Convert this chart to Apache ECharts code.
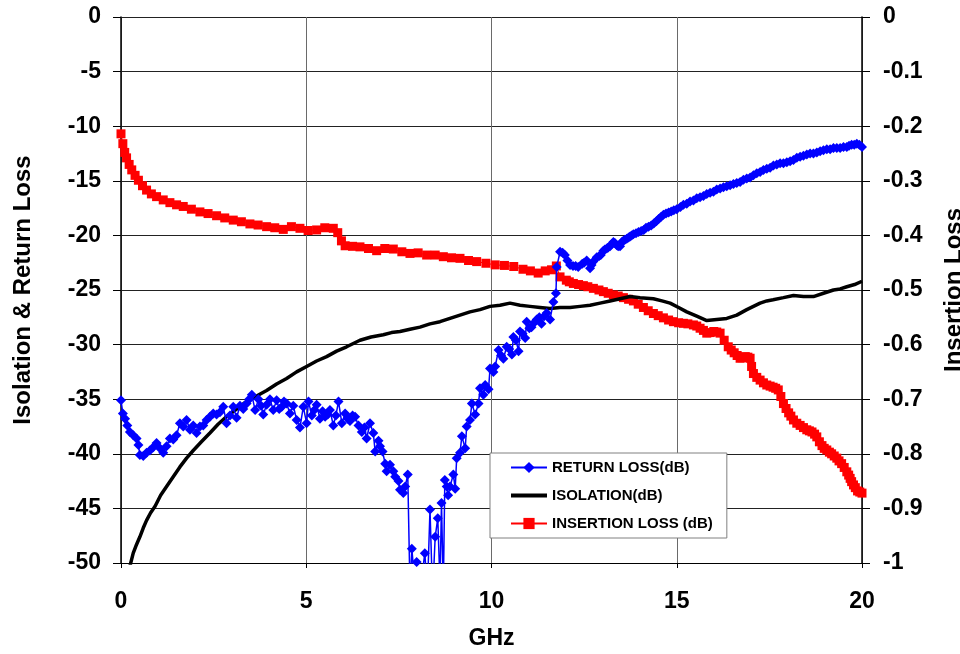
<!DOCTYPE html>
<html>
<head>
<meta charset="utf-8">
<script src="https://cdn.jsdelivr.net/npm/echarts@6/dist/echarts.min.js"></script>
<style>
html,body{margin:0;padding:0;background:#fff;}
#c{width:960px;height:654px;}
</style>
</head>
<body>
<div id="c"></div>
<script>
// X ticks (GHz)
var xTicks = [0, 5, 10, 15, 20];
var leftTicks = [0, -5, -10, -15, -20, -25, -30, -35, -40, -45, -50];
var rightTicks = [0, -0.1, -0.2, -0.3, -0.4, -0.5, -0.6, -0.7, -0.8, -0.9, -1];

// RETURN LOSS (dB), left axis
var rlFreq = [0.00,0.05,0.11,0.17,0.24,0.33,0.42,0.47,0.51,0.60,0.69,0.78,0.87,0.96,1.05,1.14,1.23,1.32,1.41,1.50,1.59,1.68,1.77,1.86,1.95,2.04,2.13,2.22,2.31,2.40,2.49,2.58,2.67,2.76,2.85,2.94,3.03,3.12,3.21,3.30,3.39,3.46,3.53,3.62,3.71,3.78,3.84,3.93,4.02,4.11,4.20,4.27,4.34,4.40,4.47,4.56,4.65,4.74,4.83,4.92,5.01,5.06,5.15,5.22,5.28,5.37,5.44,5.51,5.58,5.64,5.73,5.80,5.87,5.96,6.05,6.12,6.18,6.25,6.32,6.41,6.50,6.57,6.63,6.72,6.81,6.86,6.95,6.99,7.06,7.13,7.17,7.26,7.35,7.40,7.49,7.53,7.62,7.67,7.74,7.80,7.85,7.92,7.98,8.06,8.13,8.20,8.27,8.34,8.41,8.48,8.55,8.61,8.65,8.70,8.74,8.79,8.83,8.88,8.97,9.02,9.06,9.15,9.20,9.29,9.33,9.42,9.47,9.56,9.65,9.69,9.78,9.83,9.92,9.96,10.05,10.10,10.19,10.26,10.32,10.41,10.48,10.55,10.59,10.66,10.73,10.77,10.84,10.91,10.95,11.02,11.08,11.15,11.22,11.29,11.35,11.42,11.49,11.58,11.67,11.74,11.76,11.85,11.92,11.98,12.05,12.12,12.20,12.34,12.45,12.57,12.66,12.75,12.84,12.95,13.02,13.11,13.20,13.29,13.38,13.47,13.56,13.65,13.74,13.83,13.97,14.11,14.24,14.38,14.51,14.64,14.78,14.92,15.10,15.27,15.45,15.63,15.81,15.99,16.17,16.35,16.53,16.71,16.89,17.07,17.25,17.43,17.61,17.79,17.97,18.15,18.33,18.51,18.69,18.87,19.05,19.23,19.41,19.59,19.72,19.86,20.00];
var rlValues = [-35.1,-36.3,-36.8,-37.4,-38.0,-38.3,-38.6,-39.2,-40.1,-40.2,-39.9,-39.7,-39.4,-39.0,-39.5,-39.9,-39.3,-38.6,-38.7,-38.3,-37.2,-37.5,-36.9,-37.8,-37.4,-38.1,-37.5,-37.4,-36.9,-36.6,-36.3,-36.4,-36.2,-35.7,-37.2,-36.5,-35.7,-36.7,-35.6,-35.9,-35.4,-35.0,-34.6,-36.0,-35.0,-35.6,-36.4,-35.5,-35.0,-36.0,-35.1,-35.9,-35.7,-35.2,-35.4,-36.3,-35.6,-36.9,-37.6,-35.7,-37.2,-35.2,-36.5,-36.0,-35.5,-36.8,-36.1,-36.6,-36.4,-36.0,-37.4,-36.5,-35.2,-37.2,-36.3,-36.8,-37.0,-36.5,-36.6,-37.4,-38.0,-37.6,-38.6,-37.2,-38.1,-39.8,-38.8,-39.3,-39.8,-40.9,-41.6,-41.0,-41.6,-42.1,-42.5,-43.3,-43.6,-43.0,-41.9,-52.5,-48.7,-51.5,-49.9,-52.0,-51.0,-49.1,-52.5,-45.1,-53.0,-47.6,-45.9,-52.0,-44.5,-52.5,-42.4,-43.0,-43.8,-43.0,-41.9,-43.2,-40.4,-39.9,-38.4,-39.5,-37.5,-36.9,-35.4,-36.4,-35.4,-34.0,-34.6,-33.7,-34.1,-32.2,-32.5,-32.0,-30.5,-31.0,-31.3,-30.2,-30.4,-30.9,-29.3,-29.6,-30.6,-28.8,-29.0,-29.4,-27.9,-28.5,-28.4,-28.0,-27.7,-27.5,-28.1,-27.4,-27.1,-27.7,-26.1,-25.3,-22.9,-21.5,-21.6,-21.8,-22.3,-22.7,-22.8,-22.9,-22.6,-22.3,-23.0,-22.4,-22.0,-21.8,-21.4,-21.2,-21.0,-20.6,-20.9,-21.0,-20.5,-20.3,-20.1,-19.9,-19.7,-19.5,-19.2,-18.9,-18.5,-18.1,-17.9,-17.7,-17.4,-17.1,-16.8,-16.5,-16.2,-16.0,-15.7,-15.5,-15.3,-15.1,-14.8,-14.5,-14.2,-13.9,-13.6,-13.4,-13.3,-13.1,-12.8,-12.6,-12.5,-12.3,-12.1,-12.0,-12.0,-11.9,-11.7,-11.6,-11.9];
// further RETURN LOSS readings, 12-20 GHz band
var rlFreqMore = [12.27,12.50,12.70,12.90,13.06,13.15,13.24,13.33,13.42,13.52,13.60,13.70,13.78,13.90,14.04,14.17,14.31,14.45,14.58,14.71,14.85,15.00,15.18,15.36,15.54,15.72,15.90,16.08,16.26,16.44,16.62,16.80,16.98,17.16,17.34,17.52,17.70,17.88,18.06,18.24,18.42,18.60,18.78,18.96,19.14,19.32,19.50,19.65,19.79,19.93];
var rlValuesMore = [-22.8,-22.5,-22.7,-21.9,-21.3,-21.1,-20.8,-20.7,-21.0,-20.6,-20.4,-20.2,-20.0,-19.8,-19.6,-19.3,-19.1,-18.7,-18.3,-18.0,-17.8,-17.6,-17.2,-16.9,-16.6,-16.4,-16.1,-15.8,-15.6,-15.4,-15.2,-14.9,-14.7,-14.3,-14.0,-13.8,-13.5,-13.4,-13.2,-12.9,-12.7,-12.5,-12.4,-12.2,-12.1,-12.0,-11.9,-11.8,-11.7,-11.7];

// ISOLATION (dB), left axis
var isoFreq = [0.15,0.24,0.33,0.42,0.51,0.60,0.69,0.80,0.92,1.07,1.23,1.41,1.59,1.77,1.95,2.17,2.40,2.62,2.85,3.12,3.39,3.66,3.93,4.20,4.47,4.74,5.01,5.28,5.55,5.82,6.09,6.27,6.45,6.75,7.08,7.30,7.53,7.80,8.07,8.34,8.61,8.88,9.15,9.42,9.69,9.96,10.23,10.50,10.77,11.04,11.31,11.58,11.85,12.12,12.39,12.66,12.93,13.20,13.47,13.74,14.01,14.37,14.60,14.82,15.05,15.27,15.54,15.81,16.08,16.35,16.62,16.89,17.07,17.25,17.43,17.60,17.88,18.15,18.42,18.69,18.96,19.23,19.41,19.59,19.80,20.00];
var isoValues = [-51.5,-50.3,-49.1,-48.3,-47.6,-46.8,-46.1,-45.4,-44.8,-43.8,-43.0,-42.1,-41.2,-40.4,-39.7,-38.9,-38.1,-37.3,-36.6,-35.9,-35.2,-34.7,-34.2,-33.6,-33.1,-32.5,-32.0,-31.5,-31.1,-30.6,-30.2,-29.9,-29.6,-29.3,-29.1,-28.9,-28.8,-28.6,-28.4,-28.1,-27.9,-27.6,-27.3,-27.0,-26.8,-26.5,-26.4,-26.2,-26.4,-26.5,-26.6,-26.7,-26.6,-26.6,-26.5,-26.4,-26.2,-26.0,-25.8,-25.6,-25.7,-25.8,-26.0,-26.2,-26.6,-27.0,-27.4,-27.8,-27.7,-27.6,-27.3,-26.8,-26.5,-26.2,-26.0,-25.9,-25.7,-25.5,-25.6,-25.6,-25.3,-25.0,-24.9,-24.7,-24.5,-24.2];

// INSERTION LOSS (dB), right axis
var ilFreq = [0.00,0.05,0.10,0.15,0.22,0.29,0.38,0.47,0.58,0.69,0.82,0.96,1.14,1.32,1.50,1.68,1.90,2.13,2.35,2.58,2.80,3.03,3.25,3.48,3.70,3.93,4.15,4.38,4.60,4.83,5.05,5.28,5.50,5.73,5.85,5.95,6.05,6.25,6.45,6.68,6.90,7.12,7.35,7.58,7.80,8.02,8.25,8.48,8.70,8.92,9.15,9.38,9.60,9.85,10.10,10.35,10.60,10.85,11.05,11.26,11.45,11.62,11.75,11.85,12.02,12.21,12.48,12.75,13.02,13.29,13.56,13.83,14.10,14.37,14.64,14.91,15.18,15.45,15.63,15.81,16.00,16.17,16.39,16.55,16.71,16.85,16.98,17.07,17.25,17.43,17.60,17.74,17.88,18.02,18.15,18.33,18.51,18.65,18.78,18.92,19.05,19.18,19.32,19.45,19.59,19.68,19.77,19.88,20.00];
var ilValues = [-0.214,-0.232,-0.248,-0.258,-0.270,-0.280,-0.290,-0.299,-0.309,-0.317,-0.324,-0.329,-0.335,-0.340,-0.344,-0.347,-0.352,-0.357,-0.360,-0.364,-0.368,-0.372,-0.375,-0.379,-0.381,-0.384,-0.386,-0.389,-0.384,-0.387,-0.391,-0.390,-0.386,-0.387,-0.395,-0.410,-0.419,-0.420,-0.421,-0.424,-0.428,-0.424,-0.425,-0.430,-0.433,-0.432,-0.436,-0.436,-0.439,-0.441,-0.442,-0.446,-0.448,-0.451,-0.454,-0.455,-0.457,-0.462,-0.465,-0.469,-0.465,-0.463,-0.456,-0.476,-0.482,-0.488,-0.492,-0.497,-0.503,-0.509,-0.514,-0.520,-0.532,-0.543,-0.551,-0.558,-0.561,-0.564,-0.570,-0.579,-0.576,-0.579,-0.604,-0.615,-0.625,-0.622,-0.625,-0.653,-0.665,-0.674,-0.678,-0.683,-0.708,-0.725,-0.738,-0.748,-0.756,-0.760,-0.769,-0.785,-0.793,-0.800,-0.808,-0.818,-0.833,-0.845,-0.857,-0.868,-0.872];
// further INSERTION LOSS readings, 12-20 GHz band
var ilFreqMore = [12.10,12.35,12.60,12.90,13.15,13.42,13.70,13.96,14.23,14.50,14.78,15.05,15.30,15.54,15.72,15.90,16.08,16.28,16.47,16.63,16.78,16.92,17.02,17.16,17.34,17.52,17.67,17.81,17.95,18.08,18.24,18.42,18.58,18.72,18.85,18.98,19.12,19.25,19.38,19.52,19.64,19.72,19.82,19.94];
var ilValuesMore = [-0.485,-0.490,-0.494,-0.500,-0.506,-0.511,-0.517,-0.526,-0.538,-0.547,-0.555,-0.560,-0.562,-0.566,-0.574,-0.578,-0.577,-0.592,-0.610,-0.620,-0.624,-0.623,-0.640,-0.660,-0.670,-0.676,-0.680,-0.695,-0.717,-0.731,-0.744,-0.752,-0.758,-0.764,-0.778,-0.790,-0.797,-0.804,-0.813,-0.825,-0.839,-0.851,-0.862,-0.870];

function pairs(xs, ys){ return xs.map(function(x,i){ return [x, ys[i]]; }); }
function byFreq(a, b){ return a[0] - b[0]; }

var FONT = 'Liberation Sans, Arial, sans-serif';
var chart = echarts.init(document.getElementById('c'), null, {renderer:'canvas'});
chart.setOption({
  animation: false,
  backgroundColor: '#fff',
  grid: {left:121, right:98, top:17, bottom:91, containLabel:false, outerBoundsMode:'none', show:false},
  legend: {
    data: [
      {name: 'RETURN LOSS(dB)'},
      {name: 'ISOLATION(dB)', itemStyle: {opacity: 0}, lineStyle: {width: 4, color: '#000'}},
      {name: 'INSERTION LOSS (dB)'}
    ],
    orient: 'vertical', left: 490, top: 453,
    itemWidth: 36, itemHeight: 14, itemGap: 13,
    padding: [7, 14, 7, 19],
    backgroundColor: '#fff', borderColor: '#808080', borderWidth: 1,
    textStyle: {fontFamily: FONT, fontWeight: 'bold', fontSize: 15, color: '#000'}
  },
  xAxis: {
    type: 'value', min: xTicks[0], max: xTicks[xTicks.length-1], interval: 5,
    name: 'GHz', nameLocation: 'middle', nameGap: 64,
    nameTextStyle: {fontFamily: FONT, fontWeight: 'bold', fontSize: 23, color: '#000'},
    axisLine: {show: true, onZero: false, lineStyle: {color: '#000', width: 1}},
    axisTick: {show: true, length: 5, lineStyle: {color: '#000'}},
    axisLabel: {fontFamily: FONT, fontWeight: 'bold', fontSize: 23, color: '#000', margin: 27},
    splitLine: {show: true, lineStyle: {color: '#6a6a6a', width: 1}}
  },
  yAxis: [{
    type: 'value', min: leftTicks[leftTicks.length-1], max: leftTicks[0], interval: 5,
    position: 'left',
    name: 'Isolation & Return Loss', nameLocation: 'middle', nameGap: 86, nameRotate: 90,
    nameTextStyle: {fontFamily: FONT, fontWeight: 'bold', fontSize: 24, color: '#000'},
    axisLine: {show: true, onZero: false, lineStyle: {color: '#000', width: 1.5}},
    axisTick: {show: true, length: 8, lineStyle: {color: '#000'}},
    axisLabel: {fontFamily: FONT, fontWeight: 'bold', fontSize: 23, color: '#000', margin: 20},
    splitLine: {show: true, lineStyle: {color: '#222', width: 1}}
  }, {
    type: 'value', min: rightTicks[rightTicks.length-1], max: rightTicks[0], interval: 0.1,
    position: 'right',
    name: 'Insertion Loss', nameLocation: 'middle', nameGap: 80, nameRotate: 90,
    nameTextStyle: {fontFamily: FONT, fontWeight: 'bold', fontSize: 24, color: '#000'},
    axisLine: {show: true, onZero: false, lineStyle: {color: '#000', width: 1.5}},
    axisTick: {show: true, length: 8, lineStyle: {color: '#000'}},
    axisLabel: {fontFamily: FONT, fontWeight: 'bold', fontSize: 23, color: '#000', margin: 21,
      formatter: function(v){ return String(Math.round(v*10)/10); }},
    splitLine: {show: false}
  }],
  series: [{
    name: 'INSERTION LOSS (dB)', type: 'line', yAxisIndex: 1,
    data: pairs(ilFreq, ilValues).concat(pairs(ilFreqMore, ilValuesMore)).sort(byFreq),
    symbol: 'rect', symbolSize: 9, showAllSymbol: true,
    lineStyle: {color: '#ff0000', width: 1},
    itemStyle: {color: '#ff0000'},
    z: 2
  }, {
    name: 'ISOLATION(dB)', type: 'line', yAxisIndex: 0,
    data: pairs(isoFreq, isoValues),
    showSymbol: false, symbol: 'none',
    lineStyle: {color: '#000', width: 3.5},
    itemStyle: {color: '#000'},
    z: 3
  }, {
    name: 'RETURN LOSS(dB)', type: 'line', yAxisIndex: 0,
    data: pairs(rlFreq, rlValues).concat(pairs(rlFreqMore, rlValuesMore)).sort(byFreq),
    symbol: 'diamond', symbolSize: 10, showAllSymbol: true,
    lineStyle: {color: '#0000ff', width: 1.5},
    itemStyle: {color: '#0000ff'},
    z: 4
  }]
});
</script>
</body>
</html>
